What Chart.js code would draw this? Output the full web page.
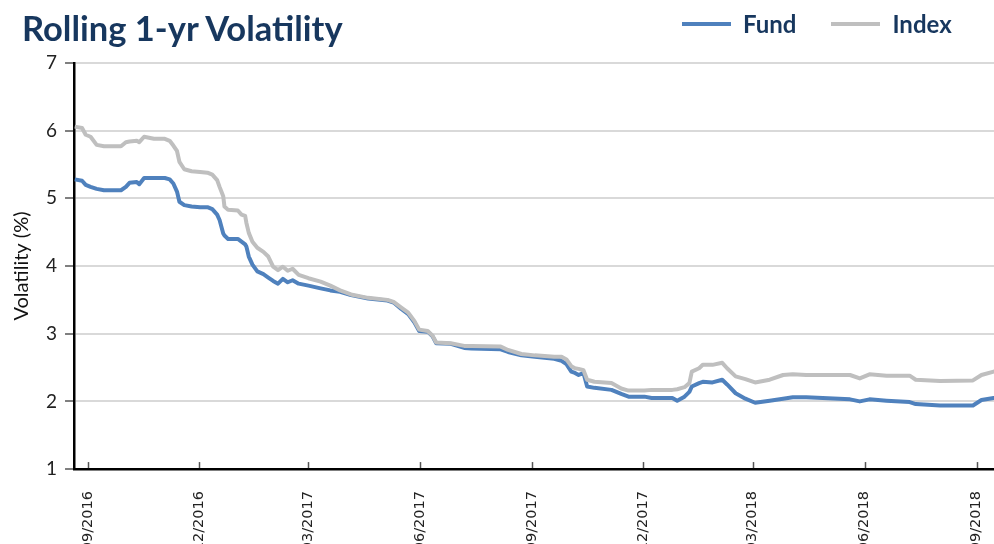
<!DOCTYPE html>
<html><head><meta charset="utf-8">
<script src="https://cdn.jsdelivr.net/npm/chart.js@4.4.0/dist/chart.umd.min.js"></script>
<style>
html,body{margin:0;padding:0;background:#fff;overflow:hidden;}
#wrap{position:relative;width:994px;height:544px;overflow:hidden;}
canvas{position:absolute;left:0;top:0;}
#title{position:absolute;left:22px;top:10.7px;font:bold 34.5px Lato;line-height:1;color:#17375E;white-space:nowrap;z-index:2;}
#legend{position:absolute;left:682px;top:12px;display:flex;align-items:center;font:bold 24px Lato;line-height:1;color:#17375E;z-index:2;}
.item{display:flex;align-items:center;margin-right:35px;}
.swatch{width:49px;height:4px;margin-right:12px;}
</style></head>
<body>
<div id="wrap">
<canvas id="c" width="1008" height="578"></canvas>
<div id="title">Rolling 1-yr Volatility</div>
<div id="legend"></div>
</div>
<script>
const seriesNames = ['Fund', 'Index'];
const dates = [
'2016-08-21','2016-08-27','2016-08-30','2016-09-03','2016-09-08','2016-09-14','2016-09-22','2016-09-28',
'2016-10-02','2016-10-05','2016-10-11','2016-10-13','2016-10-17','2016-10-25','2016-11-03','2016-11-07',
'2016-11-10','2016-11-13','2016-11-15','2016-11-19','2016-11-25','2016-12-02','2016-12-08','2016-12-12',
'2016-12-16','2016-12-18','2016-12-21','2016-12-22','2016-12-25','2017-01-02','2017-01-05','2017-01-08',
'2017-01-09','2017-01-11','2017-01-14','2017-01-18','2017-01-23','2017-01-27','2017-01-31','2017-02-04',
'2017-02-08','2017-02-12','2017-02-16','2017-02-21','2017-03-01','2017-03-11','2017-03-19','2017-03-27',
'2017-04-05','2017-04-19','2017-05-05','2017-05-10','2017-05-16','2017-05-22','2017-05-27','2017-05-31',
'2017-06-07','2017-06-11','2017-06-14','2017-06-26','2017-07-07','2017-07-13','2017-08-06','2017-08-12',
'2017-08-23','2017-09-03','2017-09-19','2017-09-25','2017-09-29','2017-10-03','2017-10-06','2017-10-09',
'2017-10-13','2017-10-16','2017-10-22','2017-11-05','2017-11-13','2017-11-19','2017-12-02','2017-12-08',
'2017-12-25','2017-12-29','2018-01-04','2018-01-08','2018-01-10','2018-01-16','2018-01-19','2018-01-27',
'2018-02-04','2018-02-08','2018-02-15','2018-02-23','2018-03-03','2018-03-15','2018-03-26','2018-04-03',
'2018-04-14','2018-05-20','2018-05-28','2018-06-05','2018-06-19','2018-07-08','2018-07-13','2018-08-02',
'2018-08-29','2018-09-05','2018-09-15','2018-09-18'
];
const fundValues = [
5.28,5.26,5.20,5.17,5.14,5.12,5.12,5.12,
5.17,5.23,5.24,5.21,5.30,5.30,5.30,5.28,
5.22,5.10,4.95,4.90,4.88,4.87,4.87,4.84,
4.76,4.68,4.48,4.45,4.40,4.40,4.36,4.32,
4.29,4.14,4.02,3.92,3.88,3.83,3.78,3.74,
3.81,3.76,3.79,3.74,3.71,3.67,3.64,3.62,
3.57,3.52,3.49,3.46,3.37,3.29,3.17,3.04,
3.03,2.96,2.86,2.85,2.79,2.78,2.77,2.73,
2.68,2.66,2.63,2.60,2.55,2.44,2.42,2.39,
2.42,2.22,2.20,2.17,2.11,2.07,2.07,2.05,
2.05,2.01,2.07,2.14,2.22,2.27,2.29,2.28,
2.32,2.25,2.12,2.04,1.98,2.01,2.04,2.06,
2.06,2.03,2.00,2.03,2.01,1.99,1.96,1.94,
1.94,2.02,2.05,2.05
];
const indexValues = [
6.06,6.04,5.94,5.91,5.79,5.77,5.77,5.77,
5.83,5.84,5.85,5.83,5.91,5.88,5.88,5.85,
5.78,5.70,5.54,5.43,5.40,5.39,5.38,5.35,
5.27,5.17,5.03,4.88,4.83,4.82,4.76,4.74,
4.64,4.49,4.36,4.27,4.21,4.14,3.99,3.94,
3.99,3.93,3.96,3.87,3.82,3.77,3.71,3.64,
3.58,3.53,3.50,3.47,3.39,3.31,3.19,3.06,
3.04,2.97,2.87,2.86,2.82,2.82,2.81,2.76,
2.70,2.68,2.66,2.66,2.62,2.52,2.49,2.48,
2.46,2.32,2.29,2.27,2.19,2.16,2.16,2.17,
2.17,2.18,2.21,2.27,2.44,2.49,2.54,2.54,
2.57,2.49,2.37,2.33,2.28,2.32,2.39,2.40,
2.39,2.39,2.34,2.40,2.38,2.38,2.32,2.30,
2.31,2.39,2.44,2.44
];
const tickDates = ['2016-09-01','2016-12-01','2017-03-01','2017-06-01','2017-09-01','2017-12-01','2018-03-01','2018-06-01','2018-09-01'];
const tickLabels = ['09/2016','12/2016','03/2017','06/2017','09/2017','12/2017','03/2018','06/2018','09/2018'];
const yTicks = [1,2,3,4,5,6,7];

const toDay = s => Date.UTC(+s.slice(0,4), +s.slice(5,7)-1, +s.slice(8,10)) / 86400000;
const tickDays = tickDates.map(toDay);
const fundData = dates.map((d,i) => ({x: toDay(d), y: fundValues[i]}));
const indexData = dates.map((d,i) => ({x: toDay(d), y: indexValues[i]}));
const colors = ['#4F81BD', '#BFBFBF'];

const innerTicks = {
  id: 'innerTicks',
  afterDraw(chart) {
    const s = chart.scales.x, ctx = chart.ctx;
    ctx.save();
    ctx.strokeStyle = '#555';
    ctx.lineWidth = 1.5;
    s.ticks.forEach(t => {
      const px = Math.round(s.getPixelForValue(t.value)) + 0.5;
      ctx.beginPath();
      ctx.moveTo(px, s.top - 1);
      ctx.lineTo(px, s.top - 7);
      ctx.stroke();
    });
    ctx.restore();
  }
};

const chart = new Chart(document.getElementById('c'), {
  type: 'line',
  data: {
    datasets: [
      {label: seriesNames[0], data: fundData, borderColor: colors[0], backgroundColor: colors[0], borderWidth: 4, pointRadius: 0, tension: 0, order: 1, borderJoinStyle: 'round'},
      {label: seriesNames[1], data: indexData, borderColor: colors[1], backgroundColor: colors[1], borderWidth: 4, pointRadius: 0, tension: 0, order: 0, borderJoinStyle: 'round'}
    ]
  },
  options: {
    responsive: false,
    animation: false,
    devicePixelRatio: 1,
    layout: {padding: {top: 63, left: 6, right: 0, bottom: 12.7}},
    plugins: {legend: {display: false}, tooltip: {enabled: false}, title: {display: false}},
    scales: {
      x: {
        type: 'linear',
        min: toDay('2016-09-01') - 11.6,
        max: toDay('2018-09-01') + 17.3,
        afterBuildTicks: s => { s.ticks = tickDays.map(v => ({value: v})); },
        grid: {display: false},
        border: {display: true, color: '#000', width: 2.5},
        ticks: {
          autoSkip: false, minRotation: 90, maxRotation: 90, padding: 14,
          color: '#222', font: {family: 'DejaVu Sans', size: 14.5},
          callback: v => { const i = tickDays.indexOf(v); return i >= 0 ? tickLabels[i] : ''; }
        }
      },
      y: {
        min: yTicks[0], max: yTicks[yTicks.length-1],
        afterBuildTicks: s => { s.ticks = yTicks.map(v => ({value: v})); },
        grid: {color: '#D9D9D9', lineWidth: 2, tickLength: 9, tickColor: '#555', tickWidth: 1.5},
        border: {display: true, color: '#000', width: 2.5},
        ticks: {padding: 8, color: '#222', font: {family: 'Lato', size: 19}},
        title: {display: true, text: 'Volatility (%)', color: '#111', font: {family: 'Lato', size: 20}, padding: {top: 4, bottom: 4}}
      }
    }
  },
  plugins: [innerTicks]
});

const legend = document.getElementById('legend');
chart.data.datasets.forEach(ds => {
  const item = document.createElement('div');
  item.className = 'item';
  const sw = document.createElement('span');
  sw.className = 'swatch';
  sw.style.background = ds.borderColor;
  const tx = document.createElement('span');
  tx.textContent = ds.label;
  item.appendChild(sw); item.appendChild(tx);
  legend.appendChild(item);
});
</script>
</body></html>
